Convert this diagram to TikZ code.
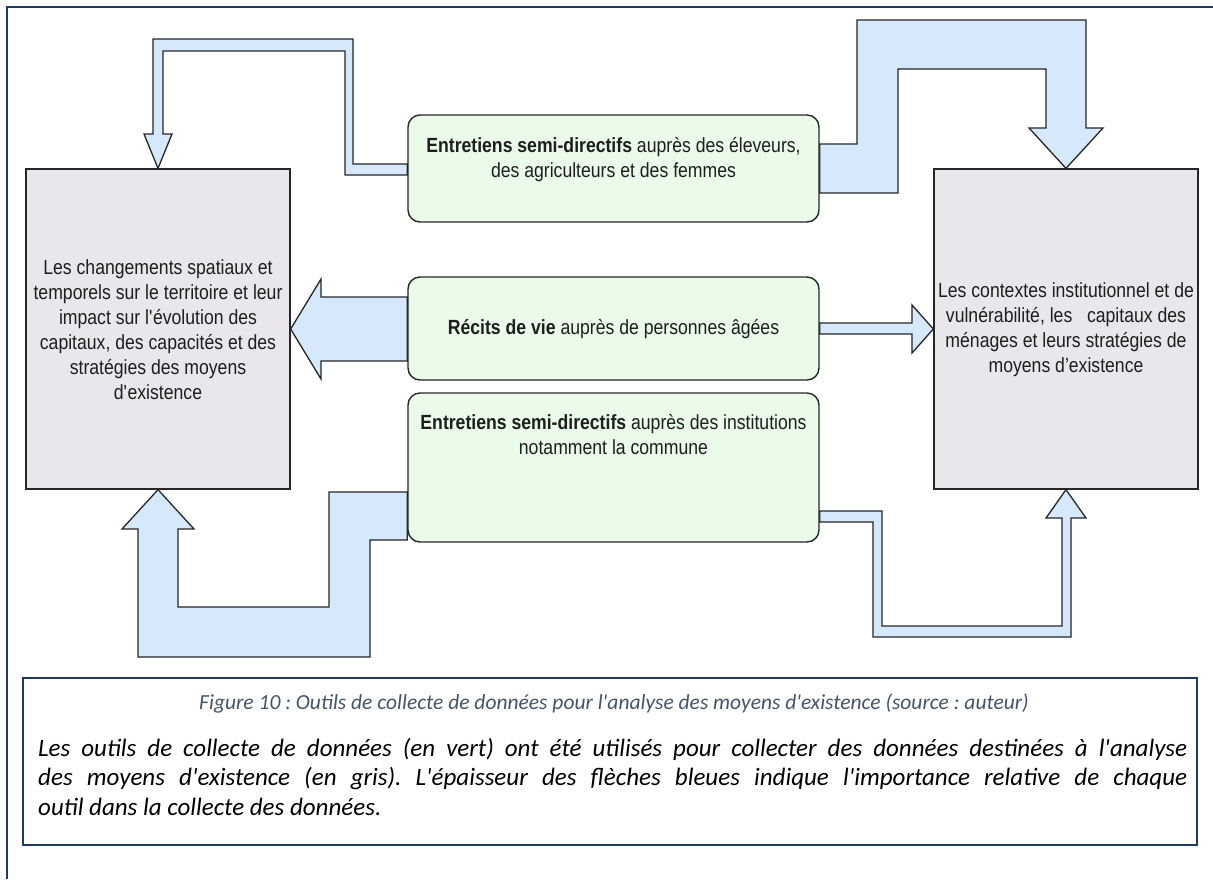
\documentclass[tikz,border=0pt]{standalone}
\usepackage{fontspec}
\setmainfont{Liberation Sans}[FakeStretch=0.86]
\newfontfamily\capfont{Carlito}
\usetikzlibrary{calc,backgrounds}

\definecolor{frameblue}{HTML}{1F3864}
\definecolor{capgray}{HTML}{44546A}
\definecolor{greenfill}{HTML}{EAFBEA}
\definecolor{grayfill}{HTML}{E9E7EC}
\definecolor{arrowfill}{HTML}{D5E8FC}
\definecolor{edgecol}{HTML}{262626}
\definecolor{txtcol}{HTML}{1E1E1E}

% straight apostrophe
\newcommand{\apos}{\textquotesingle}

\tikzset{
  greenbox/.style={draw=edgecol, fill=greenfill, line width=1.4pt, rounded corners=12pt,
    minimum width=411pt, inner sep=0pt},
  graybox/.style={draw=edgecol, fill=grayfill, line width=1.3pt,
    minimum width=264pt, minimum height=320pt, inner sep=0pt},
  boxtext/.style={text=txtcol, align=center, inner sep=0pt,
    font=\fontsize{20.5pt}{25pt}\selectfont},
  blockarrow/.style={draw=edgecol, fill=arrowfill, line width=1.3pt, line join=miter},
}

\begin{document}
\frenchspacing
\begin{tikzpicture}[x=1pt, y=-1pt]
\useasboundingbox (0,0) rectangle (1213,879);

% outer page frame
\draw[frameblue, line width=2.2pt] (7,879) -- (7,7) -- (1213,7);

% analysis boxes (grey)
\node[graybox] (lg) at (158,329) {};
\node[boxtext] (lgt) at (158,330) {Les changements spatiaux et\\temporels sur le territoire et leur\\impact sur l\apos évolution des\\capitaux, des capacités et des\\stratégies des moyens\\d\apos existence};
\node[graybox] (rg) at (1066,329) {};
\node[boxtext] (rgt) at (1066,330) {Les contextes institutionnel et de\\vulnérabilité, les\ \ \ capitaux des\\ménages et leurs stratégies de\\moyens d’existence};

% data collection tools (green)
\node[greenbox, minimum height=107pt] (g1) at (613.5,168.5) {};
\node[boxtext] (g1t) at (613.5,160) {\textbf{Entretiens semi-directifs} auprès des éleveurs,\\des agriculteurs et des femmes};
\node[greenbox, minimum height=103pt] (g2) at (613.5,328.5) {};
\node[boxtext] (g2t) at (613.5,329) {\textbf{Récits de vie} auprès de personnes âgées};
\node[greenbox, minimum height=149pt] (g3) at (613.5,467.5) {};
\node[boxtext] (g3t) at (613.5,435) {\textbf{Entretiens semi-directifs} auprès des institutions\\notamment la commune};

% block arrows, widths showing the weight of each tool
\begin{scope}[on background layer]
\draw[blockarrow] (g1.west |- 0,164) -- (353,164) -- (353,39) -- (153,39) -- (153,134)
  -- (144,134) -- (lg.north) -- (172,134) -- (163,134) -- (163,51) -- (345,51)
  -- (345,175) -- (g1.west |- 0,175) -- cycle;
\draw[blockarrow] (g1.east |- 0,144) -- (857,144) -- (857,20) -- (1086,20) -- (1086,128)
  -- (1103,128) -- (rg.north) -- (1029,128) -- (1046,128) -- (1046,69) -- (898,69)
  -- (898,193) -- (g1.east |- 0,193) -- cycle;
\draw[blockarrow] (g2.west |- 0,297) -- (321,297) -- (321,279) -- (lg.east)
  -- (321,379) -- (321,361) -- (g2.west |- 0,361) -- cycle;
\draw[blockarrow] (g2.east |- 0,323) -- (912,323) -- (912,305) -- (rg.west)
  -- (912,353) -- (912,334) -- (g2.east |- 0,334) -- cycle;
\draw[blockarrow] (g3.west |- 0,492) -- (329,492) -- (329,607) -- (178,607) -- (178,529)
  -- (194,529) -- (lg.south) -- (122,529) -- (138,529) -- (138,657) -- (370,657)
  -- (370,540) -- (g3.west |- 0,540) -- cycle;
\draw[blockarrow] (g3.east |- 0,511) -- (882,511) -- (882,626) -- (1062,626) -- (1062,518)
  -- (1046,518) -- (rg.south) -- (1086,518) -- (1071,518) -- (1071,637) -- (873,637)
  -- (873,522) -- (g3.east |- 0,522) -- cycle;
\end{scope}

% caption frame and text
\node[draw=frameblue, line width=2.5pt, minimum width=1174pt, minimum height=167pt,
  inner sep=0pt] (cap) at (610,761.5) {};
\node[text=capgray, inner sep=0pt, font=\capfont\itshape\fontsize{21.5pt}{25pt}\selectfont]
  (title) at (614,703) {Figure 10 : Outils de collecte de données pour l\apos analyse des moyens d\apos existence (source : auteur)};
\node[anchor=north west, inner sep=0pt, align=left,
  font=\capfont\itshape\fontsize{25pt}{29.5pt}\selectfont] (body) at (38,738)
  {\makebox[1149pt][s]{Les outils de collecte de données (en vert) ont été utilisés pour collecter des données destinées à l\apos analyse}\\
   \makebox[1149pt][s]{des moyens d\apos existence (en gris). L\apos épaisseur des flèches bleues indique l\apos importance relative de chaque}\\
   outil dans la collecte des données.};
\end{tikzpicture}
\end{document}
